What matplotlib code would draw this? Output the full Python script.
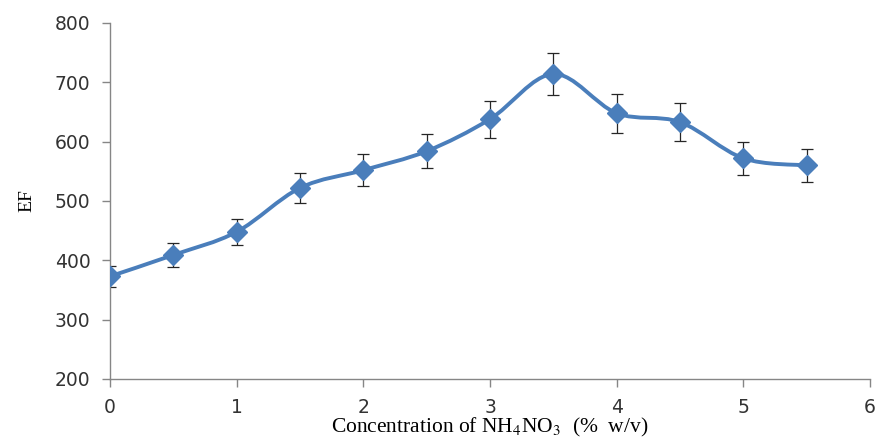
import numpy as np
import matplotlib
matplotlib.use("Agg")
import matplotlib.pyplot as plt
from matplotlib.path import Path
from matplotlib.patches import PathPatch

# concentration of NH4NO3 (% w/v) and enrichment factor
conc = [0, 0.5, 1, 1.5, 2, 2.5, 3, 3.5, 4, 4.5, 5, 5.5]
ef = [373, 409, 448, 522, 552, 584, 638, 714, 648, 633, 572, 560]
ef_err = [18, 20, 22, 26, 27, 29, 31, 35, 33, 32, 28, 28]

blue = '#4A7EBB'
grey = '#868686'

plt.rcParams['mathtext.fontset'] = 'stix'

fig = plt.figure(figsize=(8.77, 4.41), dpi=100)
ax = fig.add_axes([110/877, 1 - 379/441, 760/877, 356/441])


def smooth_path(xs, ys):
    # excel-like smoothed line: cubic bezier through every point
    pts = np.column_stack([xs, ys]).astype(float)
    ext = np.vstack([pts[0], pts, pts[-1]])
    verts = [pts[0]]
    codes = [Path.MOVETO]
    for i in range(len(pts) - 1):
        p0, p1, p2, p3 = ext[i], ext[i + 1], ext[i + 2], ext[i + 3]
        verts += [p1 + (p2 - p0) / 6, p2 - (p3 - p1) / 6, p2]
        codes += [Path.CURVE4] * 3
    return Path(verts, codes)


ax.errorbar(conc, ef, yerr=ef_err, fmt='none', ecolor='#262626',
            elinewidth=0.9, capsize=4.3, capthick=0.9, zorder=2)
ax.add_patch(PathPatch(smooth_path(conc, ef), facecolor='none',
                       edgecolor=blue, lw=2.8, capstyle='round', zorder=3))
ax.plot(conc, ef, linestyle='none', marker='D', ms=10, color=blue,
        zorder=4)

ax.set_xlim(0, 6)
ax.set_ylim(200, 800)
ax.set_xticks(range(0, 7))
ax.set_yticks(range(200, 801, 100))

for s in ['top', 'right']:
    ax.spines[s].set_visible(False)
for s in ['left', 'bottom']:
    ax.spines[s].set_color(grey)
    ax.spines[s].set_linewidth(1.0)

ax.tick_params(axis='both', colors=grey, length=6, width=1.0,
               labelcolor='#333333', labelsize=13.5, pad=8)
ax.set_xlabel(r'Concentration of NH$_4$NO$_3$  (%  w/v)',
              family='Liberation Serif', fontsize=15.5, labelpad=-1)
ax.set_ylabel('EF', family='Liberation Serif', fontsize=14, labelpad=14)

fig.savefig('out.png', dpi=100)
